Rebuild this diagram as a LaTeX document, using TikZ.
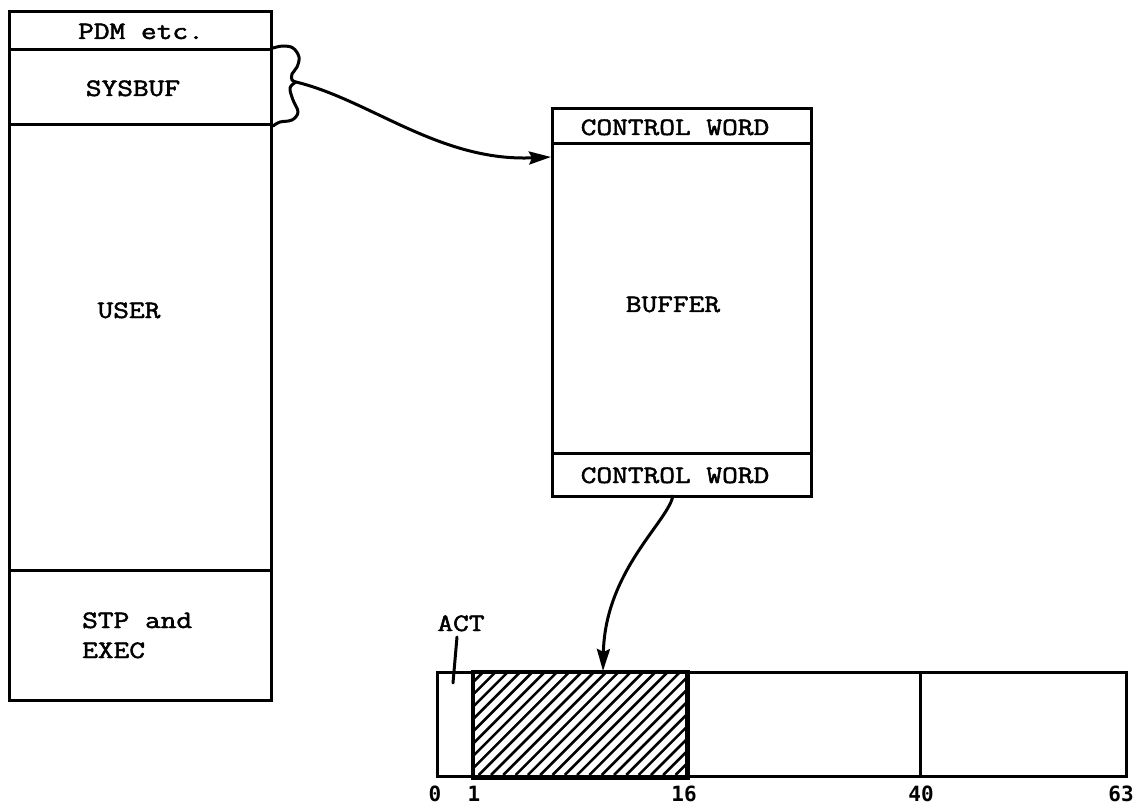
\documentclass[tikz,border=0pt]{standalone}
\usepackage{fontspec}
\newfontfamily\tw{Latin Modern Mono}[FakeBold=1.8]
\newfontfamily\numfont{DejaVu Sans Mono}
\newcommand\widetxt[1]{\scalebox{1.22}[1]{#1}}
\usetikzlibrary{arrows.meta,calc}
\begin{document}
\begin{tikzpicture}[x=1pt,y=-1pt,
  box/.style={draw,line width=3pt,inner sep=0pt,anchor=north west},
  lbl/.style={font=\fontsize{25}{30}\selectfont\tw,inner sep=0pt,anchor=base},
  num/.style={font=\fontsize{21}{24}\selectfont\numfont\bfseries,inner sep=0pt,anchor=base},
  conn/.style={line width=3pt,-{Stealth[length=22pt,width=13pt,inset=3pt]}},
  thin/.style={line width=3pt,line cap=round,line join=round}]
\useasboundingbox (0,0) rectangle (1141,805);

% left memory column
\node[box,minimum width=262pt,minimum height=38pt]  (pdm)    at (8,10)  {};
\node[box,minimum width=262pt,minimum height=75pt]  (sysbuf) at (8,48)  {};
\node[box,minimum width=262pt,minimum height=446pt] (user)   at (8,123) {};
\node[box,minimum width=262pt,minimum height=130pt] (stp)    at (8,569) {};
\node[lbl] (tpdm)  at (141,39)  {\widetxt{PDM etc.}};
\node[lbl] (tsys)  at (133,96)  {\widetxt{SYSBUF}};
\node[lbl] (tuser) at (129,318) {\widetxt{USER}};
\node[lbl,anchor=base west] (tstp)  at (82,628) {\widetxt{STP and}};
\node[lbl,anchor=base west] (texec) at (82,658) {\widetxt{EXEC}};

% buffer
\node[box,minimum width=259pt,minimum height=35pt]  (cw1) at (551,107) {};
\node[box,minimum width=259pt,minimum height=310pt] (buf) at (551,142) {};
\node[box,minimum width=259pt,minimum height=43pt]  (cw2) at (551,452) {};
\node[lbl] (tcw1) at (675,135) {\widetxt{CONTROL WORD}};
\node[lbl] (tbuf) at (673,312) {\widetxt{BUFFER}};
\node[lbl] (tcw2) at (675,483) {\widetxt{CONTROL WORD}};

% control word register
\node[box,minimum width=36pt,minimum height=104pt]  (act) at (436,671) {};
\node[box,minimum width=213pt,minimum height=104pt] (hat) at (472,671) {};
\node[box,minimum width=234pt,minimum height=104pt] (f3)  at (685,671) {};
\node[box,minimum width=206pt,minimum height=104pt] (f4)  at (919,671) {};
\begin{scope}
  \clip (hat.north west) rectangle (hat.south east);
  \foreach \i in {0,...,26}
    \draw[line width=2.6pt] ({472-104+\i*12.3},775) -- ({472+\i*12.3},671);
\end{scope}
\draw[line width=3pt] (hat.north west) rectangle (hat.south east);
\node[lbl] (tact) at (461,631) {\widetxt{ACT}};
\node[num] (n0)  at (435,801)  {0};
\node[num] (n1)  at (474,801)  {1};
\node[num] (n16) at (684,801)  {16};
\node[num] (n40) at (921,801)  {40};
\node[num] (n63) at (1121,801) {63};

% ACT pointer
\coordinate (actstart) at (457,637);
\coordinate (actend)   at (453,683);
\draw[thin] (actstart) -- (actend);

% brace on SYSBUF
\coordinate (btip) at (296,82);
\draw[thin] plot[smooth,tension=0.6] coordinates {(sysbuf.north east) (283,46) (293,48) (299,57) (297,67) (292,74) (292,80) (btip)};
\draw[thin] plot[smooth,tension=0.6] coordinates {(btip) (290,88) (293,100) (298,112) (292,120) (280,122) (sysbuf.south east)};

% connectors
\coordinate (bufin) at ($(buf.north west)+(0,15)$);
\draw[conn] (btip) .. controls (370,100) and (440,162) .. (bufin);
\coordinate (cwout) at (673,495);
\coordinate (hatin) at (603,671);
\draw[conn] (cwout) .. controls (670,520) and (605,570) .. (hatin);
\end{tikzpicture}
\end{document}
